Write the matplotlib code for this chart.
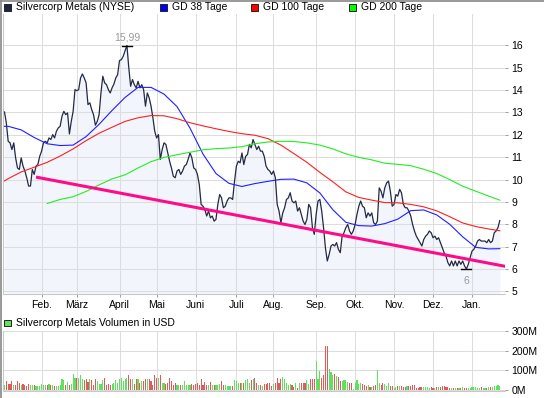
import numpy as np
import pandas as pd
import matplotlib.pyplot as plt
from matplotlib.patches import Rectangle
from matplotlib.lines import Line2D

plt.rcParams['font.family'] = ['Liberation Sans', 'DejaVu Sans']
plt.rcParams['font.size'] = 7.5

# NYSE holidays in the period, so one index step = one trading day
holidays = ['2011-01-17', '2011-02-21', '2011-04-22', '2011-05-30', '2011-07-04',
            '2011-09-05', '2011-11-24', '2011-12-26', '2012-01-02', '2012-01-16']

# daily close (USD)
close = [
    13.02, 12.53, 11.71, 11.64, 11.34, 11.64, 10.97, 10.52, 10.45, 10.97,
    10.6, 10.38, 10.08, 9.71, 9.71, 10.45, 10.23, 10.6, 10.67, 11.04,
    11.27, 11.64, 11.71, 11.64, 11.86, 11.79, 12.01, 11.86, 12.16, 12.31,
    12.38, 12.83, 13.05, 12.9, 12.98, 12.04, 12.6, 13.05, 14.02, 13.97,
    14.02, 14.54, 14.72, 14.54, 14.32, 13.35, 13.43, 13.13, 12.9, 12.43,
    12.6, 12.9, 13.87, 14.62, 14.32, 14.24, 14.02, 13.87, 14.1, 14.27,
    14.54, 14.69, 15.32, 15.36, 15.51, 15.76,
    15.99, 15.0, 14.17, 14.47, 14.24, 14.1, 14.39, 14.1, 14.24, 14.02,
    13.28, 13.87, 13.65, 13.28, 12.76, 12.16, 11.86, 12.01, 10.9, 11.34,
    11.64, 11.57, 11.19, 10.82, 10.52, 10.15, 10.08, 10.38, 10.45, 10.23,
    10.38, 10.6, 10.67, 10.9, 11.19, 10.97, 10.52, 10.45, 10.23, 9.78,
    8.89, 8.81, 8.66, 8.37, 8.59, 8.29, 8.37, 8.14, 8.22, 8.89,
    9.33, 9.18, 8.74, 8.81, 9.04, 9.18, 9.18, 9.11, 9.93, 10.6,
    10.82, 10.75, 11.19, 10.67, 11.04, 11.12,
    11.57, 11.42, 11.79, 11.57, 11.34, 11.49, 11.27, 11.27, 11.04, 10.6,
    10.45, 10.38, 10.23, 10.38, 10.08, 8.89, 8.59, 8.07, 8.51, 8.74,
    9.11, 9.18, 9.41, 9.04, 8.96, 9.04, 8.59, 8.74, 8.44, 8.14,
    7.99, 8.22, 8.89, 8.74, 7.85, 7.55, 8.44, 9.04, 9.11, 8.59,
    7.85, 6.95, 6.36, 6.65, 7.03, 7.1, 7.03, 7.18, 6.88, 6.73,
    7.47, 7.62, 7.85, 7.99, 7.7, 7.55, 7.7, 7.99, 8.44, 8.81,
    9.04, 8.81, 8.74, 8.29, 8.51, 8.37, 8.51,
    8.07, 7.99, 8.14, 9.63, 9.48, 9.18, 9.63, 9.85, 9.93, 9.48,
    8.81, 8.89, 9.33, 9.26, 9.56, 9.41, 8.89, 8.74, 8.74, 8.59,
    8.37, 7.99, 7.7, 7.47, 7.32, 7.18, 7.03, 7.32, 7.47, 7.55,
    7.7, 7.62, 7.4, 7.47, 7.32, 7.4, 7.18, 6.95, 6.73, 6.58,
    6.29, 6.14, 6.36, 6.14, 6.36, 6.14, 6.36, 6.21, 6.36, 6.14,
    6.0, 6.21, 6.51, 6.8, 6.88, 7.03, 7.25, 7.32, 7.25, 7.25,
    7.25, 7.18, 7.32, 7.18, 7.25, 7.62, 7.7, 7.85, 8.17,
]

# daily volume in million USD
volume = [
    25, 45, 30, 30, 45, 25, 25, 45, 37, 28,
    30, 25, 20, 33, 25, 28, 28, 20, 20, 20,
    30, 28, 25, 25, 30, 28, 28, 20, 20, 20,
    25, 55, 50, 28, 42, 25, 33, 83, 62, 62,
    62, 78, 55, 50, 58, 42, 58, 50, 28, 58,
    45, 33, 33, 50, 63, 28, 30, 28, 33, 38,
    50, 38, 55, 62, 45, 55, 63, 75, 55, 55, 30,
    55, 58, 38, 45, 45, 55, 58, 58, 45, 28,
    75, 62, 62, 78, 38, 38, 33, 38, 63, 45,
    28, 38, 28, 28, 28, 25, 45, 28, 25, 28,
    33, 25, 33, 38, 28, 58, 28, 42, 28, 28, 42,
    25, 25, 28, 25, 33, 45, 28, 25, 20, 20,
    20, 20, 50, 45, 38, 37, 37, 37, 50, 55,
    37,
    53, 55, 63, 38, 28, 25, 20, 30, 30, 38,
    38, 22, 30, 38, 63, 38, 55, 67, 58, 38,
    28, 33, 25, 17, 37, 12, 38, 38, 38, 38,
    50, 30, 55, 55, 55, 150, 55, 95, 62, 75,
    222, 225, 105, 92, 75, 83, 72, 67, 45, 45,
    50, 50, 42, 38, 37, 5, 38, 50, 30, 38,
    33, 28, 22, 25, 17, 17, 22, 25, 100, 38, 25,
    38, 30, 22, 38, 20, 20, 12, 17, 20, 20,
    20, 17, 17, 20, 20, 22, 25, 25, 8, 12,
    17, 17, 15, 17, 17, 12, 17, 12, 12, 13, 17, 13,
    20, 22, 17, 17, 12, 12, 12, 12, 12, 12,
    12, 15, 12, 12, 12, 12, 15, 15, 15, 12, 12, 15,
    12, 12, 12, 17, 17, 17, 22, 22, 25, 20,
]

# moving averages, read every 7 trading days
ma_idx = np.r_[0, np.arange(2, 262, 7), 267]
gd38 = [12.38, 12.38, 12.22, 11.88, 11.6, 11.52, 11.54, 11.92, 12.47, 13.09,
        13.67, 14.12, 14.12, 13.82, 13.26, 12.3, 11.14, 10.27, 9.83, 9.69,
        9.82, 9.92, 10.01, 10.02, 9.85, 9.4, 8.65, 8.09, 7.94, 7.92,
        8.03, 8.23, 8.61, 8.64, 8.42, 8.0, 7.44, 6.97, 6.9, 6.91]
gd100 = [9.94, 10.04, 10.34, 10.55, 10.77, 11.05, 11.37, 11.74, 12.07, 12.34,
         12.6, 12.76, 12.86, 12.85, 12.72, 12.54, 12.4, 12.27, 12.15, 12.05,
         11.98, 11.83, 11.54, 11.16, 10.77, 10.32, 9.9, 9.45, 9.2, 9.08,
         8.97, 8.96, 8.89, 8.78, 8.6, 8.34, 8.06, 7.9, 7.79, 7.71]
gd200 = [np.nan, np.nan, np.nan, np.nan, 8.93, 9.11, 9.23, 9.47, 9.76, 10.03,
         10.21, 10.52, 10.8, 10.99, 11.11, 11.22, 11.33, 11.38, 11.41, 11.47,
         11.6, 11.68, 11.71, 11.7, 11.64, 11.54, 11.37, 11.15, 10.99, 10.88,
         10.73, 10.68, 10.62, 10.46, 10.27, 10.0, 9.7, 9.48, 9.26, 9.08]

# support line (start day, end day) / values
trend_idx = [17, 270]
trend_val = [10.11, 6.12]

month_names = ['Jan.', 'Feb.', 'März', 'April', 'Mai', 'Juni', 'Juli',
               'Aug.', 'Sep.', 'Okt.', 'Nov.', 'Dez.']

close = np.array(close)
idx = np.arange(len(close))
dates = pd.bdate_range('2011-01-03', periods=len(close), freq='C', holidays=holidays)
starts = [i for i in range(1, len(dates)) if dates[i].month != dates[i - 1].month]
labels = [month_names[dates[i].month - 1] for i in starts]

W, H = 544, 398
fig = plt.figure(figsize=(W / 100, H / 100), dpi=100)


def box(l, t, r, b):
    return [l / W, 1 - b / H, (r - l) / W, (b - t) / H]


grid_c = '#dddddd'
ax = fig.add_axes(box(3, 14, 505, 294))
vax = fig.add_axes(box(3, 331, 505, 391))

# price panel
ax.fill_between(idx, close, 0, color='#f3f5fd', lw=0, zorder=0.2)
ax.plot(idx, close, color='#222b45', lw=0.9, zorder=3)
ax.plot(ma_idx, gd38, color='#1f1fff', lw=0.8, zorder=4)
ax.plot(ma_idx, gd100, color='#ff1f1f', lw=0.8, zorder=4)
ax.plot(ma_idx, gd200, color='#22ee22', lw=0.8, zorder=4)
ax.plot(trend_idx, trend_val, color='#ff0a88', lw=2.2, zorder=5, solid_capstyle='butt')

imax, imin = int(np.argmax(close)), int(np.argmin(close))
for i, dy in ((imax, 5.5), (imin, -8.5)):
    v = close[i]
    ax.plot([i - 2.7, i + 2.7], [v, v], color='black', lw=1, zorder=6)
    ax.annotate(f'{v:g}'.replace('.', ','), (i, v), xytext=(0, dy),
                textcoords='offset points', ha='center', va='center', color='#999999')

ax.set_xlim(-0.8, 269.8)
ax.set_ylim(4.884, 17.4)
ax.set_xticks(starts)
ax.set_xticklabels(labels)
ax.set_yticks(range(5, 17))
ax.yaxis.tick_right()
ax.grid(True, color=grid_c, lw=0.75)
ax.set_axisbelow(True)
ax.tick_params(axis='both', length=2, width=0.7, color='#999999', pad=2)
ax.tick_params(axis='y', pad=2.5)

# volume panel
up = np.r_[True, close[1:] >= close[:-1]]
colors = np.where(up, '#5fe05f', '#e05a5a')
vax.bar(idx, volume, width=0.6, color=colors, lw=0, zorder=3, antialiased=False)
vax.set_xlim(-0.8, 269.8)
vax.set_ylim(-5, 300)
vax.set_xticks(starts)
vax.set_xticklabels([])
vax.set_yticks([0, 100, 200, 300])
vax.set_yticklabels(['0M', '100M', '200M', '300M'])
vax.yaxis.tick_right()
vax.grid(True, color=grid_c, lw=0.75)
vax.set_axisbelow(True)
vax.tick_params(axis='x', length=0)
vax.tick_params(axis='y', length=2, width=0.7, color='#999999', pad=2.5)

for a in (ax, vax):
    for s in ('top', 'right'):
        a.spines[s].set_visible(False)
    for s in ('left', 'bottom'):
        a.spines[s].set_color('#c8c8c8')
        a.spines[s].set_linewidth(0.75)

# legend boxes
legend = [('Silvercorp Metals (NYSE)', '#1c2541', 4),
          ('GD 38 Tage', '#0000ff', 160),
          ('GD 100 Tage', '#ff0000', 251),
          ('GD 200 Tage', '#00ff00', 349),
          ]
for text, col, x in legend:
    fig.add_artist(Rectangle((x / W, 1 - 10.5 / H), 6.5 / W, 6.5 / H, facecolor=col,
                             edgecolor='#222222', lw=0.7, transform=fig.transFigure))
    fig.text((x + 12) / W, 1 - 7.5 / H, text, va='center')

fig.add_artist(Rectangle((4 / W, 1 - 326 / H), 6.5 / W, 6.5 / H, facecolor='#66dd66',
                         edgecolor='#222222', lw=0.7, transform=fig.transFigure))
fig.text(16 / W, 1 - 322.5 / H, 'Silvercorp Metals Volumen in USD', va='center')

# outer frame lines (left and top)
fig.add_artist(Line2D([0.5 / W, 0.5 / W], [0, 1], color='#888888', lw=1.2,
                      transform=fig.transFigure))
fig.add_artist(Line2D([0, 1], [1 - 0.5 / H, 1 - 0.5 / H], color='#888888', lw=1.2,
                      transform=fig.transFigure))

fig.savefig('out.png', dpi=100)
